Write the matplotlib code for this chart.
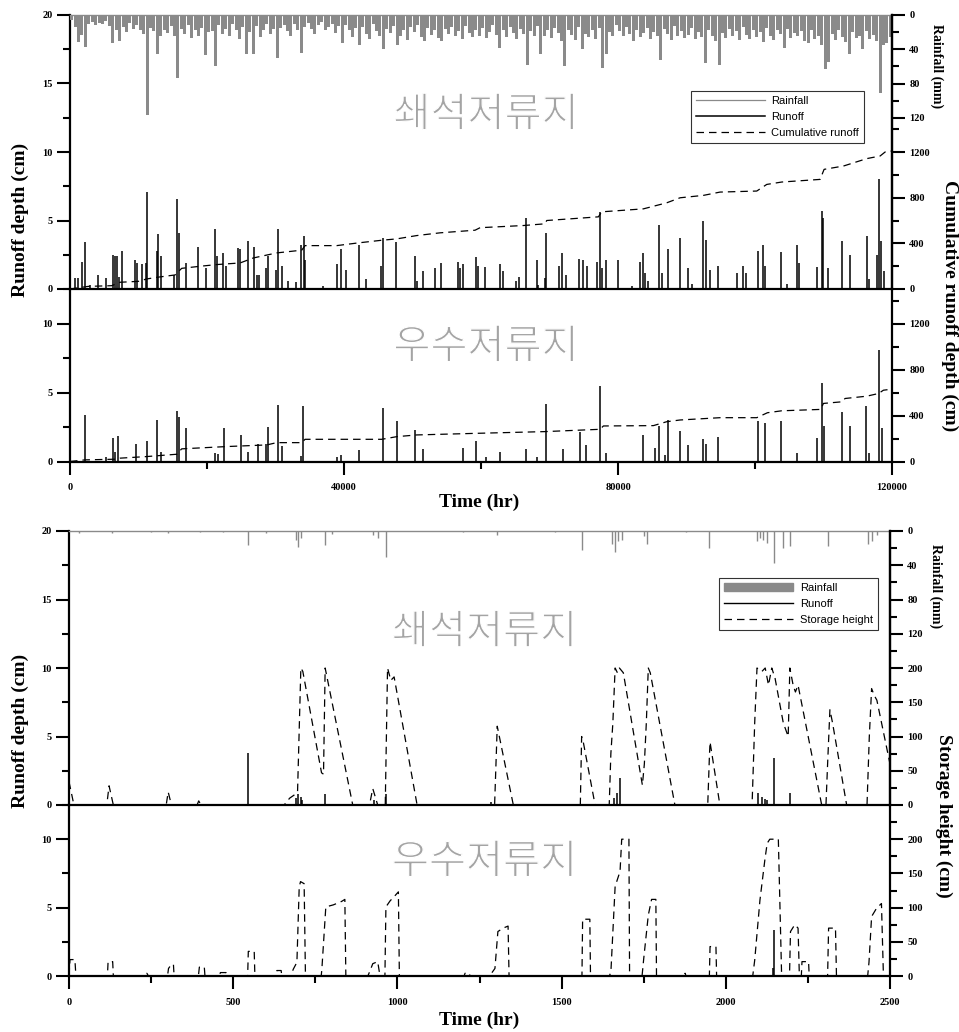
import numpy as np
import matplotlib
matplotlib.use('Agg')
import matplotlib.pyplot as plt
import matplotlib.patheffects as pe
from matplotlib.lines import Line2D
from matplotlib.patches import Patch
from matplotlib.ticker import FixedLocator, StrMethodFormatter

plt.rcParams['font.family'] = ['Liberation Serif', 'DejaVu Serif']
plt.rcParams['font.weight'] = 'bold'

GRAY = '#8a8a8a'
KR_GRAY = '#a4a4a4'

# ---------------- long record (hr) ----------------
# rainfall, 500-hr bins (max hourly rainfall in the bin, mm)
rain_long_t = np.arange(250, 120000, 500)
rain_long_mm = [
    6, 14, 31, 23, 37, 10, 8, 12, 9, 11,
    7, 13, 33, 18, 30, 14, 20, 9, 16, 12,
    18, 22, 117, 15, 19, 45, 24, 17, 21, 13,
    25, 74, 16, 22, 12, 27, 18, 24, 15, 47,
    20, 19, 60, 12, 22, 16, 25, 11, 17, 28,
    14, 45, 20, 45, 13, 26, 18, 10, 22, 16,
    50, 15, 12, 19, 24, 11, 17, 44, 14, 9,
    16, 22, 12, 8, 18, 14, 10, 21, 13, 33,
    12, 18, 26, 15, 35, 14, 22, 28, 11, 19,
    24, 40, 16, 21, 13, 35, 25, 17, 29, 14,
    20, 12, 26, 30, 15, 23, 18, 27, 30, 16,
    22, 14, 25, 19, 28, 13, 21, 26, 17, 24,
    15, 27, 20, 12, 23, 38, 18, 26, 14, 21,
    28, 16, 22, 58, 19, 25, 13, 45, 24, 18,
    27, 15, 21, 30, 60, 17, 23, 29, 14, 40,
    22, 26, 18, 28, 15, 62, 45, 20, 24, 12,
    19, 25, 14, 22, 30, 17, 26, 21, 15, 28,
    20, 24, 53, 16, 22, 29, 13, 25, 19, 27,
    23, 15, 28, 20, 26, 56, 18, 24, 30, 58,
    21, 27, 16, 25, 19, 29, 14, 23, 28, 17,
    26, 20, 31, 15, 24, 29, 18, 22, 38, 16,
    27, 21, 25, 19, 30, 33, 17, 28, 24, 35,
    63, 55, 22, 29, 18, 26, 31, 45, 20, 27,
    24, 40, 19, 28, 23, 30, 91, 35, 33, 26,
]

# runoff, crushed-stone storage (cm)
runoff1_t = [730, 1100, 1704, 2240, 2921, 4138, 5257, 6328, 6571, 6912, 7155, 7593,
             9491, 9832, 10465, 11049, 11243, 12655, 12850, 13239, 15234, 15672, 15916,
             16938, 18739, 19810, 21221, 21513, 22389, 22779, 24580, 24823, 26040, 26867,
             27354, 27646, 28619, 28863, 30080, 30372, 30956, 31880, 33048, 33730, 34119,
             34314, 36990, 38937, 39521, 40251, 42246, 43220, 45410, 45653, 47600, 50374,
             50618, 51591, 53294, 54122, 56604, 56945, 57431, 59281, 59621,
             60590, 62780, 63267, 65068, 65554, 66576, 68134, 68377, 69350, 69497, 71395,
             71784, 72417, 74363, 74850, 75434, 76992, 77381, 77722, 78209, 79961, 82005,
             83222, 83611, 83952, 84438, 85996, 86385, 87358, 89062, 90181, 90765, 92371,
             92858, 93442, 94659, 97336, 98309, 98650, 100402, 101230, 101473, 103809,
             104637, 106097, 106486, 109017, 109747, 109990, 110623, 112764, 113884,
             116317, 116707, 117778, 118118, 118410, 118848]
runoff1_cm = [0.8, 0.8, 2.0, 3.4, 0.3, 1.0, 0.8, 2.5, 2.4, 2.4, 0.9, 2.75,
              2.1, 1.9, 1.8, 1.9, 7.05, 2.8, 4.0, 2.4, 1.0, 6.6, 4.1,
              1.9, 3.1, 1.5, 4.4, 2.4, 2.6, 1.7, 3.0, 2.9, 3.5, 3.1,
              1.0, 1.0, 1.5, 2.4, 1.4, 4.4, 1.7, 0.6, 0.5, 3.2, 3.9,
              2.1, 0.2, 1.8, 2.9, 1.4, 3.2, 0.7, 1.7, 3.7, 3.4, 2.4,
              0.6, 1.3, 1.5, 1.9, 2.0, 1.5, 1.8, 2.3, 1.7,
              1.6, 1.8, 1.3, 0.6, 0.85, 5.2, 2.1, 0.3, 0.8, 4.1, 1.7,
              2.6, 1.0, 2.2, 2.1, 1.7, 2.0, 5.6, 1.5, 2.1, 2.1, 0.2,
              2.0, 2.6, 1.2, 0.6, 4.7, 1.2, 2.9, 3.7, 1.5, 0.4, 4.95,
              3.6, 1.4, 1.7, 1.2, 1.7, 1.2, 2.8, 3.2, 1.7, 2.7,
              0.4, 3.2, 1.9, 1.6, 5.7, 5.2, 1.5, 3.5, 2.5,
              3.9, 0.7, 2.5, 8.05, 3.5, 1.3]
cum1_t = [0, 2677, 6085, 7300, 9978, 11195, 12655, 15332, 16306, 18982, 21416, 24823,
          26770, 30176, 33826, 34314, 38937, 42100, 45507, 47697, 50618, 54025, 59135,
          59865, 66187, 69350, 69594, 77137, 77625, 83708, 87115, 89062, 92468, 94902,
          100256, 101716, 103906, 109504, 110088, 112910, 116317, 118264, 118994, 120000]
cum1_cm = [0, 23, 29, 59, 67, 88, 102, 123, 181, 199, 214, 228,
           272, 316, 340, 380, 380, 404, 427, 439, 468, 492, 515,
           537, 556, 571, 600, 632, 676, 702, 755, 799, 820, 849,
           858, 916, 937, 960, 1048, 1077, 1142, 1165, 1200, 1209]

# runoff, stormwater storage (cm)
runoff2_t = [2240, 5257, 6328, 6571, 6961, 9589, 11195, 12752, 13239, 15672, 15916, 16938,
             21172, 21659, 22486, 24920, 26040, 27403, 28571, 28863, 30323, 30907, 33730,
             34071, 38937, 39521, 42246, 45653, 47697, 50374, 51591, 57334, 59281,
             60736, 62780, 66576, 68134, 69497, 71930, 74461, 75337, 77381, 78257, 83708,
             85411, 85996, 86871, 87358, 89062, 90181, 92371, 92858, 94659, 100402,
             101473, 103809, 106097, 109017, 109747, 110088, 112667, 113884, 116220,
             116707, 118118, 118508]
runoff2_cm = [3.4, 0.35, 1.7, 0.7, 1.85, 1.3, 1.5, 3.0, 0.7, 3.65, 3.25, 2.4,
              0.6, 0.55, 2.4, 1.9, 0.7, 1.25, 1.25, 2.5, 4.1, 1.1, 0.4,
              4.0, 0.3, 0.5, 0.85, 3.9, 2.9, 2.3, 0.9, 1.0, 1.45,
              0.35, 0.7, 0.9, 0.3, 4.2, 0.9, 2.15, 1.2, 5.5, 0.65, 1.9,
              1.0, 2.55, 0.5, 3.0, 2.2, 1.2, 1.6, 1.25, 1.75, 2.9,
              2.8, 2.9, 0.65, 1.7, 5.7, 2.55, 3.6, 2.55, 4.0,
              0.6, 8.1, 2.4]
cum2_t = [0, 2190, 6571, 7300, 11195, 15575, 16306, 22876, 28716, 30176, 33826, 34314,
          45507, 47697, 50618, 59379, 69350, 77381, 77868, 85168, 87115, 89062, 94902,
          100256, 101813, 103906, 109601, 109990, 112667, 113154, 116317, 118021,
          118750, 120000]
cum2_cm = [0, 14, 20, 29, 43, 63, 110, 130, 144, 164, 164, 193,
           193, 216, 231, 245, 260, 280, 309, 312, 346, 361, 381,
           381, 424, 441, 453, 505, 519, 548, 568, 591,
           620, 629]

# ---------------- short record (hr) ----------------
rain_short_t = [30, 130, 250, 300, 400, 470, 546, 600, 690, 697, 705, 780, 800, 925, 941,
                965, 1200, 1302, 1480, 1561, 1652, 1662, 1672, 1683, 1750, 1759, 1880,
                1950, 2094, 2104, 2114, 2124, 2148, 2175, 2195, 2312, 2434, 2444, 2460]
rain_short_mm = [2, 2, 1.5, 2, 1, 1.5, 16.7, 2, 10, 19, 8, 16, 4, 5, 8,
                 30, 1.5, 5, 1, 22, 15, 25, 12, 10, 6, 15, 1.5,
                 20, 12, 8, 10, 14, 37, 20, 18, 18, 15, 12, 5]

runoff3_t = [545, 690, 697, 705, 710, 780, 930, 965, 1285, 1660, 1668, 1678,
             2099, 2110, 2118, 2124, 2148, 2195]
runoff3_cm = [3.8, 0.5, 0.8, 0.6, 0.4, 0.8, 0.4, 0.8, 0.2, 0.5, 0.9, 2.0,
              0.9, 0.6, 0.45, 0.35, 3.4, 0.9]
store3_t = [0, 15, 115, 122, 135, 296, 302, 312, 390, 395, 402, 655, 672, 690, 696,
            706, 712, 769, 775, 780, 864, 915, 925, 940, 963, 970, 980, 990, 1060,
            1296, 1304, 1353, 1557, 1561, 1566, 1602, 1645, 1650, 1656, 1663, 1670,
            1676, 1688, 1746, 1752, 1758, 1764, 1770, 1845, 1945, 1950, 1952, 1982,
            2080, 2088, 2095, 2110, 2120, 2130, 2140, 2150, 2175, 2190, 2195, 2205,
            2212, 2220, 2292, 2305, 2310, 2317, 2325, 2368, 2430, 2437, 2444, 2452,
            2460, 2500]
store3_cm = [34, 0, 0, 28, 0, 0, 19, 0, 0, 6, 0, 0, 10, 16, 20,
             200, 195, 47, 45, 200, 0, 0, 24, 0, 0, 200, 182, 187, 0,
             0, 115, 0, 0, 100, 92, 0, 0, 75, 119, 200, 193,
             200, 193, 29, 60, 120, 200, 193, 0, 0, 70, 92, 0,
             0, 120, 200, 195, 200, 175, 200, 185, 120, 100, 200, 175,
             165, 175, 0, 0, 60, 139, 120, 0, 0, 100, 170, 160,
             153, 60]

runoff4_t = [2145, 2148]
runoff4_cm = [0.6, 3.35]
store4_t = [0, 3, 18, 21, 117, 119, 133, 135, 232, 237, 242, 300, 303, 312, 318, 320,
            394, 397, 412, 414, 458, 461, 478, 480, 544, 546, 564, 566, 630, 633, 646,
            648, 675, 683, 694, 701, 705, 716, 720, 768, 770, 782, 805, 830, 840, 843,
            910, 917, 925, 940, 947, 962, 965, 978, 990, 1003, 1006, 1203, 1206, 1219,
            1221, 1278, 1285, 1297, 1306, 1322, 1337, 1340, 1472, 1475, 1478, 1562,
            1564, 1586, 1588, 1645, 1650, 1663, 1678, 1683, 1705, 1707, 1745, 1750,
            1764, 1774, 1787, 1789, 1873, 1876, 1879, 1950, 1952, 1970, 1972, 2082,
            2088, 2104, 2119, 2126, 2134, 2160, 2170, 2194, 2197, 2210, 2220, 2224,
            2230, 2232, 2252, 2254, 2310, 2313, 2334, 2337, 2432, 2436, 2444, 2459,
            2474, 2480, 2500]
store4_cm = [0, 24, 24, 0, 0, 21, 21, 0, 0, 4, 0, 0, 11, 17, 17, 0,
             0, 13, 13, 0, 0, 5, 5, 0, 0, 36, 36, 0, 0, 8, 8,
             0, 0, 10, 20, 130, 138, 135, 0, 0, 10, 101, 104, 109, 112, 0,
             0, 8, 18, 21, 0, 0, 101, 110, 116, 123, 0, 0, 4, 4,
             0, 0, 3, 11, 65, 70, 73, 0, 0, 2, 0, 0,
             83, 83, 0, 0, 5, 131, 153, 200, 200, 0, 0, 25,
             89, 112, 112, 0, 0, 4, 0, 0, 43, 43, 0, 0,
             23, 111, 170, 194, 200, 200, 0, 0, 65, 75, 70, 0,
             0, 21, 21, 0, 0, 70, 70, 0, 0, 20, 87, 99,
             106, 0, 0]

W_FIG, H_FIG = 959, 1032
fig = plt.figure(figsize=(W_FIG / 100, H_FIG / 100), dpi=100)


def rect(x0, x1, y0, y1):
    return [x0 / W_FIG, 1 - y1 / H_FIG, (x1 - x0) / W_FIG, (y1 - y0) / H_FIG]


def tick_style(ax, axis):
    ax.tick_params(axis=axis, which='major', direction='out', length=9.5, width=1.5,
                   labelsize=7.5, pad=3)
    ax.tick_params(axis=axis, which='minor', direction='out', length=5, width=1.5)


def main_axes(r, ymax, xmax, xmaj, xmin, yticks, ymin_ticks, rain_top, xlabels):
    ax = fig.add_axes(r)
    ax.patch.set_alpha(0)
    ax.set_xlim(0, xmax)
    ax.set_ylim(0, ymax)
    ax.yaxis.set_major_locator(FixedLocator(yticks))
    ax.yaxis.set_minor_locator(FixedLocator(ymin_ticks))
    ax.yaxis.set_major_formatter(StrMethodFormatter('{x:.0f}'))
    tick_style(ax, 'y')
    for s in ['left', 'bottom']:
        ax.spines[s].set_linewidth(1.6)
    ax.spines['right'].set_visible(False)
    if rain_top:
        ax.spines['top'].set_color(GRAY)
        ax.spines['top'].set_linewidth(1.0)
    else:
        ax.spines['top'].set_visible(False)
    if xlabels:
        ax.xaxis.set_major_locator(FixedLocator(xmaj))
        ax.xaxis.set_minor_locator(FixedLocator(xmin))
        ax.xaxis.set_major_formatter(StrMethodFormatter('{x:.0f}'))
        tick_style(ax, 'x')
        ax.tick_params(axis='x', pad=6)
    else:
        ax.set_xticks([])
    return ax


def right_axes(ax, lim, major, minor):
    tw = ax.twinx()
    tw.set_ylim(*lim)
    tw.yaxis.set_major_locator(FixedLocator(major))
    tw.yaxis.set_minor_locator(FixedLocator(minor))
    tw.yaxis.set_major_formatter(StrMethodFormatter('{x:.0f}'))
    tick_style(tw, 'y')
    for s in ['left', 'top', 'bottom']:
        tw.spines[s].set_visible(False)
    tw.spines['right'].set_linewidth(1.6)
    return tw


# thin the CJK strokes a little (reference uses a light gothic face)
thin = [pe.Normal(), pe.Stroke(linewidth=0.9, foreground='white')]


def korean(ax, text, y):
    ax.text(0.506, y, text, transform=ax.transAxes, ha='center', va='center',
            fontsize=29, color=KR_GRAY, family=['Noto Sans CJK KR', 'DejaVu Sans'],
            fontweight='normal', zorder=0, path_effects=thin)


dash = (6, 4)

# ---------- top figure ----------
ax1 = main_axes(rect(70, 892, 15, 289), 20, 120000, None, None,
                [0, 5, 10, 15, 20], [2.5, 7.5, 12.5, 17.5], True, False)
ax1.vlines(runoff1_t, 0, runoff1_cm, color='black', lw=1.1)
korean(ax1, '쇄석저류지', 0.635)
r1 = right_axes(ax1, (320, 0), [0, 40, 80, 120], [20, 60, 100])
r1.bar(rain_long_t, rain_long_mm, width=440, color=GRAY, linewidth=0)
c1 = right_axes(ax1, (0, 2400), [0, 400, 800, 1200], [200, 600, 1000, 1400])
c1.plot(cum1_t, cum1_cm, color='black', lw=0.9, dashes=dash)

leg_font = {'family': ['Liberation Sans', 'DejaVu Sans'], 'weight': 'normal', 'size': 8}
h1 = [Line2D([], [], color=GRAY, lw=0.9), Line2D([], [], color='black', lw=1.1),
      Line2D([], [], color='black', lw=0.9, dashes=dash)]
lg = c1.legend(h1, ['Rainfall', 'Runoff', 'Cumulative runoff'], prop=leg_font,
               loc='upper right', bbox_to_anchor=(0.966, 0.7226), frameon=True,
               fancybox=False, edgecolor='black', handlelength=6.2, handletextpad=0.6,
               labelspacing=0.55, borderpad=0.45, borderaxespad=0)
lg.get_frame().set_linewidth(0.8)

ax2 = main_axes(rect(70, 892, 289, 461.5), 12.5, 120000, [0, 40000, 80000, 120000],
                [20000, 60000, 100000], [0, 5, 10], [2.5, 7.5, 12.5], False, True)
ax2.vlines(runoff2_t, 0, runoff2_cm, color='black', lw=1.1)
korean(ax2, '우수저류지', 0.664)
c2 = right_axes(ax2, (0, 1500), [0, 400, 800, 1200], [200, 600, 1000, 1400])
c2.plot(cum2_t, cum2_cm, color='black', lw=0.9, dashes=dash)

fig.text(20 / W_FIG, 1 - 220 / H_FIG, 'Runoff depth (cm)', rotation=90, ha='center',
         va='center', fontsize=14)
fig.text(479 / W_FIG, 1 - 502 / H_FIG, 'Time (hr)', ha='center', va='center', fontsize=14)
fig.text(937 / W_FIG, 1 - 66 / H_FIG, 'Rainfall (mm)', rotation=-90, ha='center',
         va='center', fontsize=10)
fig.text(950 / W_FIG, 1 - 306 / H_FIG, 'Cumulative runoff depth (cm)', rotation=-90,
         ha='center', va='center', fontsize=14)

# ---------- bottom figure ----------
ax3 = main_axes(rect(69, 890, 531, 805), 20, 2500, None, None,
                [0, 5, 10, 15, 20], [2.5, 7.5, 12.5, 17.5], True, False)
ax3.vlines(runoff3_t, 0, runoff3_cm, color='black', lw=1.1)
korean(ax3, '쇄석저류지', 0.631)
r3 = right_axes(ax3, (320, 0), [0, 40, 80, 120], [20, 60, 100])
r3.vlines(rain_short_t, 0, rain_short_mm, color=GRAY, lw=1.0)
s3 = right_axes(ax3, (0, 400), [0, 50, 100, 150, 200], [25, 75, 125, 175, 225])
s3.plot(store3_t, store3_cm, color='black', lw=0.9, dashes=dash)

h3 = [Patch(facecolor=GRAY, edgecolor=GRAY), Line2D([], [], color='black', lw=1.0),
      Line2D([], [], color='black', lw=0.9, dashes=dash)]
lg3 = s3.legend(h3, ['Rainfall', 'Runoff', 'Storage height'], prop=leg_font,
                loc='upper right', bbox_to_anchor=(0.9854, 0.828), frameon=True,
                fancybox=False, edgecolor='black', handlelength=6.2, handletextpad=0.6,
                labelspacing=0.55, borderpad=0.45, borderaxespad=0)
lg3.get_frame().set_linewidth(0.8)

ax4 = main_axes(rect(69, 890, 805, 976), 12.5, 2500, [0, 500, 1000, 1500, 2000, 2500],
                [250, 750, 1250, 1750, 2250], [0, 5, 10], [2.5, 7.5, 12.5], False, True)
ax4.vlines(runoff4_t, 0, runoff4_cm, color='black', lw=1.1)
korean(ax4, '우수저류지', 0.667)
s4 = right_axes(ax4, (0, 250), [0, 50, 100, 150, 200], [25, 75, 125, 175, 225])
s4.plot(store4_t, store4_cm, color='black', lw=0.9, dashes=dash)

fig.text(20 / W_FIG, 1 - 731 / H_FIG, 'Runoff depth (cm)', rotation=90, ha='center',
         va='center', fontsize=14)
fig.text(479 / W_FIG, 1 - 1020 / H_FIG, 'Time (hr)', ha='center', va='center', fontsize=14)
fig.text(936 / W_FIG, 1 - 586 / H_FIG, 'Rainfall (mm)', rotation=-90, ha='center',
         va='center', fontsize=10)
fig.text(944 / W_FIG, 1 - 816 / H_FIG, 'Storage height (cm)', rotation=-90,
         ha='center', va='center', fontsize=14)

fig.savefig('out.png', dpi=100)
